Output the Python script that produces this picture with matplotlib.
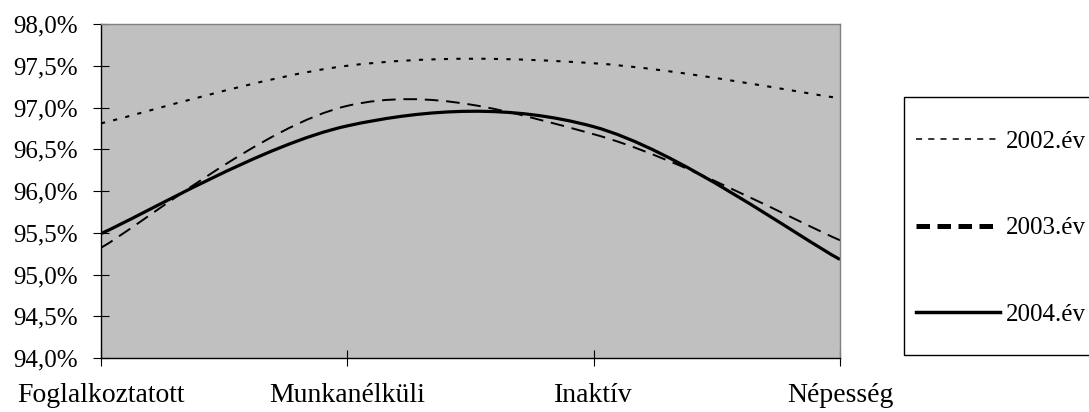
# plot.py
# Smoothed line chart of three years across four groups, Excel look

import matplotlib
matplotlib.use("Agg")
import matplotlib.pyplot as plt
from matplotlib.path import Path
from matplotlib.patches import PathPatch, Rectangle
from matplotlib.lines import Line2D
from matplotlib.ticker import FuncFormatter

plt.rcParams['font.family'] = ['Liberation Serif', 'DejaVu Serif']

# data
categories = ["Foglalkoztatott", "Munkanélküli", "Inaktív", "Népesség"]
years = ["2002.év", "2003.év", "2004.év"]
values_2002 = [96.81, 97.50, 97.53, 97.11]
values_2003 = [95.32, 97.02, 96.68, 95.41]
values_2004 = [95.49, 96.78, 96.77, 95.18]
series = [values_2002, values_2003, values_2004]

# line styles in the plot and in the legend
styles = [
    dict(linestyle=(0, (2.0, 4.0)), linewidth=1.5),
    dict(linestyle=(0, (7.0, 4.0)), linewidth=1.4),
    dict(linestyle='-', linewidth=2.3),
]
legend_styles = [
    dict(linestyle=(0, (4.0, 4.0)), linewidth=1.1),
    dict(linestyle=(0, (2.7, 1.5)), linewidth=3.6),
    dict(linestyle='-', linewidth=2.5),
]


def smooth_path(xs, ys):
    # bezier segments like the smoothed lines of a spreadsheet chart
    n = len(xs)
    verts = [(xs[0], ys[0])]
    codes = [Path.MOVETO]
    for i in range(n - 1):
        i0 = max(i - 1, 0)
        i3 = min(i + 2, n - 1)
        c1 = (xs[i] + (xs[i + 1] - xs[i0]) / 6, ys[i] + (ys[i + 1] - ys[i0]) / 6)
        c2 = (xs[i + 1] - (xs[i3] - xs[i]) / 6, ys[i + 1] - (ys[i3] - ys[i]) / 6)
        verts += [c1, c2, (xs[i + 1], ys[i + 1])]
        codes += [Path.CURVE4] * 3
    return Path(verts, codes)


W, H = 1089, 412
fig = plt.figure(figsize=(W / 100, H / 100), dpi=100)
ax = fig.add_axes([101 / W, 1 - 358 / H, 739 / W, 334 / H])
ax.set_facecolor('#c0c0c0')

xs = list(range(len(categories)))
handles = []
for vals, st, lst, name in zip(series, styles, legend_styles, years):
    patch = PathPatch(smooth_path(xs, vals), fill=False, edgecolor='black',
                      capstyle='butt', **st)
    ax.add_patch(patch)
    handles.append(Line2D([], [], color='black', label=name,
                          dash_capstyle='butt', **lst))

ax.set_xlim(0, 3)
ax.set_ylim(94, 98)
ax.set_xticks(xs)
ax.set_xticklabels(categories, fontsize=20)
ax.set_yticks([94 + 0.5 * k for k in range(9)])
ax.yaxis.set_major_formatter(FuncFormatter(lambda v, p: ("%.1f%%" % v).replace('.', ',')))

ax.tick_params(axis='x', direction='inout', length=12, width=0.8, pad=12)
ax.tick_params(axis='y', direction='inout', length=12, width=0.8, pad=10.5, labelsize=18)

for side in ['top', 'right']:
    ax.spines[side].set_color('#808080')
    ax.spines[side].set_linewidth(1.0)
for side in ['left', 'bottom']:
    ax.spines[side].set_color('black')
    ax.spines[side].set_linewidth(1.0)

# legend box on the right, partly cut off
box = Rectangle((904 / W, 1 - 355 / H), 200 / W, 258 / H, transform=fig.transFigure,
                facecolor='white', edgecolor='black', linewidth=1.0)
fig.add_artist(box)
leg = fig.legend(handles=handles, loc='center left',
                 bbox_to_anchor=(916 / W, 1 - 228 / H), borderaxespad=0,
                 borderpad=0, fontsize=18, handlelength=3.36, handletextpad=0.24,
                 labelspacing=2.56, frameon=False)

fig.savefig('out.png', dpi=100)
